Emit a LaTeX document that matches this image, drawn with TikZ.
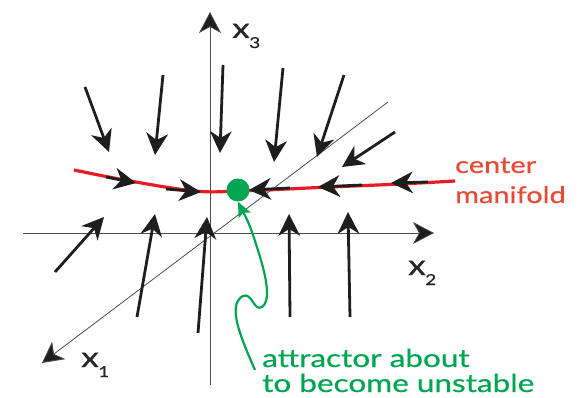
\documentclass[tikz,border=0pt]{standalone}
\usepackage{fontspec}
\setmainfont[FakeStretch=1.26,FakeBold=0.6]{Lato}
\usetikzlibrary{arrows.meta}
\definecolor{cmred}{RGB}{232,28,36}
\definecolor{lblred}{RGB}{236,72,52}
\definecolor{attgreen}{RGB}{0,166,81}
\definecolor{flowblack}{RGB}{30,30,30}
\tikzset{
  axisline/.style={draw=black!70, line width=0.8pt},
  flow/.style={draw=flowblack, line width=2.8pt, -{Stealth[length=22pt,width=22pt,inset=7pt,line width=0pt]}},
  axislabel/.style={anchor=base west, inner sep=0pt, font=\fontsize{28}{28}\selectfont, text=black!85},
  greentext/.style={anchor=base west, inner sep=0pt, font=\fontsize{25}{25}\selectfont, text=attgreen},
  redtext/.style={anchor=base west, inner sep=0pt, font=\fontsize{23}{25}\selectfont, text=lblred},
}
\newcommand{\axsub}[1]{\kern-0.5pt\raisebox{-10pt}{\fontsize{15}{15}\selectfont #1}}
\begin{document}
\begin{tikzpicture}[x=1pt,y=-1pt]
\useasboundingbox (0,0) rectangle (578,398);
% axes
\coordinate (o) at (210,233);
\coordinate (x3bot) at (210,385);
\coordinate (x3top) at (210,12);
\coordinate (x2left) at (23,233);
\coordinate (x2right) at (434,233);
\coordinate (x1far) at (388,102);
\coordinate (x1near) at (42,363);
\draw[axisline, -{Stealth[length=21pt,width=22pt,inset=6pt,fill=flowblack]}] (x3bot) -- (x3top);
\draw[axisline, -{Stealth[length=21pt,width=22pt,inset=6pt,fill=flowblack]}] (x2left) -- (x2right);
\draw[axisline, -{Stealth[length=21pt,width=22pt,inset=6pt,fill=flowblack]}] (x1far) -- (x1near);
\node[axislabel] (lx3) at (232,38) {x\axsub{3}};
\node[axislabel] (lx2) at (408,275) {x\axsub{2}};
\node[axislabel] (lx1) at (81,367) {x\axsub{1}};
% center manifold curve
\draw[cmred, line width=3.2pt] plot[smooth, tension=0.6] coordinates {(74,170) (130,181) (195,191) (240,191) (330,187) (400,184) (455,181)};
% flow arrows along the manifold
\coordinate (m1a) at (106,177); \coordinate (m1b) at (136,183);
\coordinate (m2a) at (166,189); \coordinate (m2b) at (201,192);
\coordinate (m3a) at (290,188); \coordinate (m3b) at (249,190);
\coordinate (m4a) at (362,185); \coordinate (m4b) at (318,187);
\coordinate (m5a) at (428,182); \coordinate (m5b) at (391,183);
\draw[flow] (m1a) -- (m1b);
\draw[flow] (m2a) -- (m2b);
\draw[flow] (m3a) -- (m3b);
\draw[flow] (m4a) -- (m4b);
\draw[flow] (m5a) -- (m5b);
% flow arrows from above
\coordinate (a1a) at (85,87);   \coordinate (a1b) at (109,152);
\coordinate (a2a) at (163,75);  \coordinate (a2b) at (155,155);
\coordinate (a3a) at (223,65);  \coordinate (a3b) at (220,153);
\coordinate (a4a) at (283,68);  \coordinate (a4b) at (274,162);
\coordinate (a5a) at (344,75);  \coordinate (a5b) at (317,157);
\coordinate (a6a) at (395,132); \coordinate (a6b) at (342,167);
\foreach \i in {1,...,6} {\draw[flow] (a\i a) -- (a\i b);}
% flow arrows from below
\coordinate (b1a) at (55,272);  \coordinate (b1b) at (104,217);
\coordinate (b2a) at (137,317); \coordinate (b2b) at (155,214);
\coordinate (b3a) at (198,333); \coordinate (b3b) at (207,217);
\coordinate (b4a) at (290,317); \coordinate (b4b) at (289,214);
\coordinate (b5a) at (350,317); \coordinate (b5b) at (348,212);
\foreach \i in {1,...,5} {\draw[flow] (b\i a) -- (b\i b);}
% attractor
\node[circle, fill=attgreen, minimum size=23pt, inner sep=0pt] (att) at (238,190) {};
% labels
\node[redtext] (cm1) at (455,173) {center};
\node[redtext] (cm2) at (455,203) {manifold};
\node[greentext] (g1) at (262,367) {attractor about};
\node[greentext] (g2) at (262,392) {to become unstable};
\coordinate (gstart) at (255,370);
\draw[attgreen, line width=2.2pt, -{Stealth[length=15pt,width=13pt,inset=3pt]}]
  (gstart) .. controls (242,340) and (226,305) .. (243,296)
  .. controls (252,292) and (254,312) .. (262,307)
  .. controls (274,298) and (262,262) .. (252,232)
  .. controls (247,218) and (242,210) .. (att.south);
\end{tikzpicture}
\end{document}
